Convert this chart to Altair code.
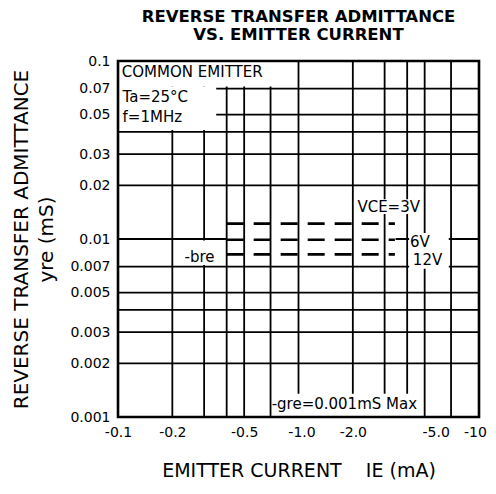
import altair as alt
import pandas as pd

FONT = "DejaVu Sans"

# ---- axes -------------------------------------------------------------
x_domain = [0.1, 10]          # |IE| (mA), drawn as negative labels
y_domain = [0.001, 0.1]       # yre (mS)
x_tick_values = [0.1, 0.2, 0.5, 1, 2, 5, 10]
x_tick_labels = ["-0.1", "-0.2", "-0.5", "-1.0", "-2.0", "-5.0", "-10"]
y_tick_values = [0.001, 0.002, 0.003, 0.005, 0.007, 0.01, 0.02, 0.03, 0.05, 0.07, 0.1]
y_tick_labels = ["0.001", "0.002", "0.003", "0.005", "0.007", "0.01",
                 "0.02", "0.03", "0.05", "0.07", "0.1"]

# ---- grid -------------------------------------------------------------
x_grid = [0.2, 0.3, 0.4, 0.5, 0.7, 1, 2, 3, 4, 5, 7]
y_grid_full = [0.002, 0.003, 0.004, 0.005, 0.007, 0.02, 0.03, 0.04, 0.05, 0.07]
# the 0.01 line is broken where the curves run
y_grid_seg_y = [0.01, 0.01]
y_grid_seg_x1 = [0.1, 3.45]
y_grid_seg_x2 = [0.4, 10]

# ---- curves: -bre vs IE for VCE = 3, 6, 12 V ------------------------
ie_mA = [0.4, 3.42]
bre_3v = [0.0122, 0.0122]
bre_6v = [0.0099, 0.0099]
bre_12v = [0.0082, 0.0082]
vce_names = ["3V", "6V", "12V"]

# ---- label backgrounds (white boxes that break the grid) -------------
box_x1 = [0.1, 0.1, 0.205, 2.06, 4.1, 0.715]
box_x2 = [0.97, 0.35, 0.39, 4.75, 6.8, 4.85]
box_y1 = [0.072, 0.041, 0.00715, 0.0138, 0.0068, 0.001]
box_y2 = [0.1, 0.072, 0.0098, 0.0167, 0.0108, 0.00135]

# ---- annotations -----------------------------------------------------
cond_text = ["COMMON EMITTER", "Ta=25°C", "f=1MHz"]
cond_x = [0.105, 0.106, 0.106]
cond_y = [0.0862, 0.0624, 0.0482]

curve_text = ["VCE=3V", "6V", "12V", "-gre=0.001mS Max"]
curve_x = [2.12, 4.15, 4.3, 0.71]
curve_y = [0.0151, 0.0096, 0.0076, 0.00118]

bre_text = ["-bre"]
bre_x = [0.283]
bre_y = [0.0079]

# small shifts of individual x tick labels, as placed in the original
x_label_shift_values = [1, 5, 10]
x_label_shift_px = [3, 11, -4]


def expr_map(values, labels):
    e = "".join(f"datum.value == {v} ? '{l}' : " for v, l in zip(values, labels))
    return e + "''"


xscale = alt.Scale(type="log", domain=x_domain, nice=False)
yscale = alt.Scale(type="log", domain=y_domain, nice=False)

xaxis = alt.Axis(values=x_tick_values, labelExpr=expr_map(x_tick_values, x_tick_labels),
                 grid=False, ticks=False, domain=False, labelFlush=False,
                 labelOffset={"condition": [{"test": f"datum.value == {v}", "value": s}
                                            for v, s in zip(x_label_shift_values,
                                                            x_label_shift_px)],
                              "value": 0},
                 labelFont=FONT, labelFontSize=14, labelColor="black", labelPadding=8,
                 title="EMITTER CURRENT\u00a0\u00a0\u00a0\u00a0IE (mA)",
                 titleFont=FONT, titleFontSize=19, titleFontWeight="normal",
                 titleColor="black", titlePadding=22)
yaxis = alt.Axis(values=y_tick_values, labelExpr=expr_map(y_tick_values, y_tick_labels),
                 grid=False, ticks=False, domain=False, labelFlush=False,
                 labelFont=FONT, labelFontSize=14, labelColor="black", labelPadding=8,
                 title=["REVERSE TRANSFER ADMITTANCE", "yre (mS)"],
                 titleFont=FONT, titleFontSize=20, titleFontWeight="normal",
                 titleColor="black", titlePadding=13, titleLineHeight=25)


def X(f):
    return alt.X(f, type="quantitative", scale=xscale, axis=xaxis)


def Y(f):
    return alt.Y(f, type="quantitative", scale=yscale, axis=yaxis)


vgrid_df = pd.DataFrame({"x": x_grid})
hgrid_df = pd.DataFrame({"y": y_grid_full})
hseg_df = pd.DataFrame({"y": y_grid_seg_y, "x1": y_grid_seg_x1, "x2": y_grid_seg_x2})
box_df = pd.DataFrame({"x1": box_x1, "x2": box_x2, "y1": box_y1, "y2": box_y2})
curve_df = pd.DataFrame({
    "ie": ie_mA * 3,
    "bre": bre_3v + bre_6v + bre_12v,
    "vce": sum([[n] * len(ie_mA) for n in vce_names], []),
})
cond_df = pd.DataFrame({"x": cond_x, "y": cond_y, "t": cond_text})
ctext_df = pd.DataFrame({"x": curve_x, "y": curve_y, "t": curve_text})
bre_df = pd.DataFrame({"x": bre_x, "y": bre_y, "t": bre_text})
frame_df = pd.DataFrame({"x1": [x_domain[0]], "x2": [x_domain[1]],
                         "y1": [y_domain[0]], "y2": [y_domain[1]]})

GW = 1.8
vgrid = alt.Chart(vgrid_df).mark_rule(color="black", strokeWidth=GW).encode(x=X("x"))
hgrid = alt.Chart(hgrid_df).mark_rule(color="black", strokeWidth=GW).encode(y=Y("y"))
hseg = alt.Chart(hseg_df).mark_rule(color="black", strokeWidth=GW).encode(
    x=X("x1"), x2="x2", y=Y("y"))
boxes = alt.Chart(box_df).mark_rect(color="white").encode(
    x=X("x1"), x2="x2", y=Y("y1"), y2="y2")
curves = alt.Chart(curve_df).mark_line(color="black", strokeWidth=2.6,
                                       strokeDash=[17, 10]).encode(
    x=X("ie"), y=Y("bre"), detail="vce:N")
cond = alt.Chart(cond_df).mark_text(font=FONT, fontSize=15, align="left",
                                    baseline="middle", color="black").encode(
    x=X("x"), y=Y("y"), text="t:N")
ctext = alt.Chart(ctext_df).mark_text(font=FONT, fontSize=15, align="left",
                                      baseline="middle", color="black").encode(
    x=X("x"), y=Y("y"), text="t:N")
bre = alt.Chart(bre_df).mark_text(font=FONT, fontSize=15, align="center",
                                  baseline="middle", color="black").encode(
    x=X("x"), y=Y("y"), text="t:N")
frame = alt.Chart(frame_df).mark_rect(fillOpacity=0, stroke="black",
                                      strokeWidth=2.6).encode(
    x=X("x1"), x2="x2", y=Y("y1"), y2="y2")

chart = alt.layer(vgrid, hgrid, hseg, boxes, curves, cond, ctext, bre, frame).properties(
    width=361, height=356,
    autosize=alt.AutoSizeParams(type="none"),
    padding={"left": 110, "top": 53, "right": 9, "bottom": 68},
    title=alt.TitleParams(text=["REVERSE TRANSFER ADMITTANCE", "VS. EMITTER CURRENT"],
                          font=FONT, fontSize=16.5, fontWeight="bold", color="black",
                          anchor="middle", lineHeight=17.5, offset=11),
).configure_view(strokeWidth=0)

chart.save("out.html", embed_options={"renderer": "svg", "actions": False})
